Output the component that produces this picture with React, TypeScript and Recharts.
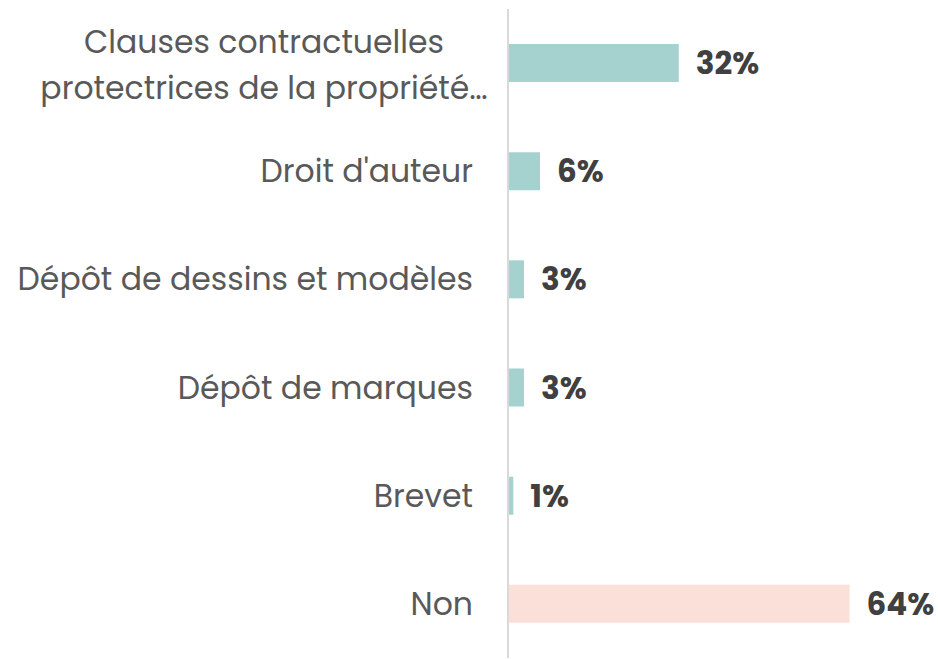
import { BarChart, Bar, XAxis, YAxis, Cell, LabelList } from 'recharts';

const categories = [
  'Clauses contractuelles|protectrices de la propriété…',
  "Droit d'auteur",
  'Dépôt de dessins et modèles',
  'Dépôt de marques',
  'Brevet',
  'Non',
];
const values = [32, 6, 3, 3, 1, 64];
const barColors = ['#a5d1cf', '#a5d1cf', '#a5d1cf', '#a5d1cf', '#a5d1cf', '#fbe0da'];

const FONT = "Poppins, 'Open Sans', sans-serif";

const data = categories.map((name, i) => ({ name, value: values[i] }));

function CategoryTick({ x, y, payload }: any) {
  const lines: string[] = String(payload.value).split('|');
  if (lines.length > 1) {
    return (
      <text x={264} y={y} textAnchor="middle" fill="#595959" fontFamily={FONT} fontSize={31.5}>
        {lines.map((l, i) => (
          <tspan key={i} x={264} dy={i === 0 ? -10 : 46}>{l}</tspan>
        ))}
      </text>
    );
  }
  return (
    <text x={x} y={y} dy={11} textAnchor="end" fill="#595959" fontFamily={FONT} fontSize={31.5}>
      {payload.value}
    </text>
  );
}

export default function App() {
  return (
    <div style={{ position: 'fixed', left: 0, top: 0, width: 938, height: 659, background: '#fff' }}>
      <BarChart
        width={938}
        height={659}
        data={data}
        layout="vertical"
        margin={{ top: 9, right: 3, bottom: 1, left: 0 }}
        barCategoryGap={0}
      >
        <XAxis type="number" domain={[0, 80]} hide />
        <YAxis
          type="category"
          dataKey="name"
          width={508}
          tickLine={false}
          axisLine={{ stroke: '#d9d9d9', strokeWidth: 2 }}
          tickMargin={29}
          tick={<CategoryTick />}
          interval={0}
        />
        <Bar dataKey="value" barSize={38} isAnimationActive={false}>
          {data.map((d, i) => (
            <Cell key={d.name} fill={barColors[i]} />
          ))}
          <LabelList
            dataKey="value"
            position="right"
            offset={17}
            formatter={(v: any) => `${v}%`}
            style={{ fill: '#404040', fontFamily: FONT, fontSize: 31, fontWeight: 700 }}
          />
        </Bar>
      </BarChart>
    </div>
  );
}
